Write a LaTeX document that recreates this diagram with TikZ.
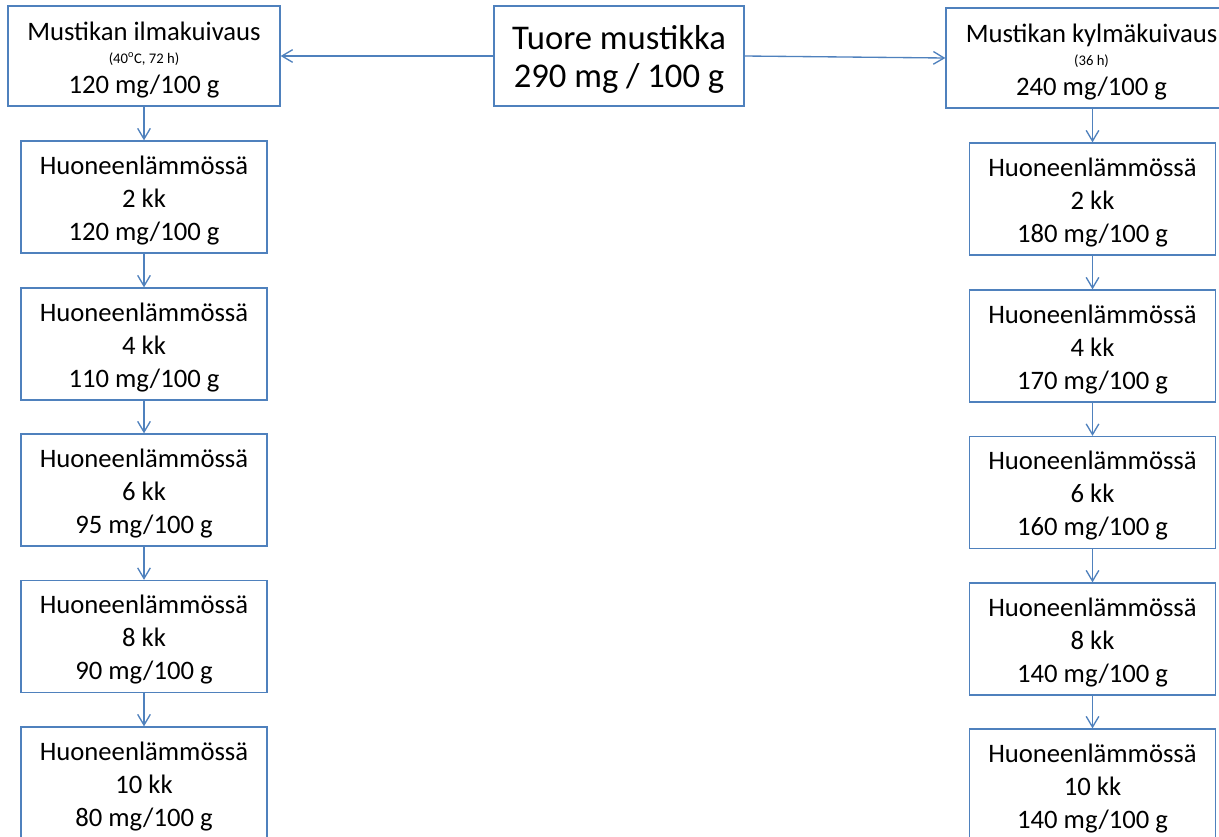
\documentclass[tikz,border=0pt]{standalone}
\usepackage{fontspec}
\setmainfont{Carlito}
\usetikzlibrary{arrows.meta}
\definecolor{boxblue}{HTML}{4F81BD}
\tikzset{
  box/.style={draw=boxblue, line width=1pt, fill=white, inner sep=0pt, align=center,
    font=\fontsize{20}{24.75}\selectfont},
  colbox/.style={box, minimum width=184.5pt, minimum height=84pt},
  arr/.style={draw=boxblue, line width=1pt, -{Straight Barb[length=8pt,width=9.5pt,line width=1pt]}}
}
\newcommand{\smalltxt}[1]{{\fontsize{11}{12}\selectfont #1}}
\newcommand{\topstrut}[1]{\rule{0pt}{#1}}
\begin{document}
\begin{tikzpicture}[x=0.75pt,y=-0.75pt]
\useasboundingbox (0,0) rectangle (1219,836);
\fill[white] (0,0) rectangle (1219,836);
\clip (0,0) rectangle (1219,836);

\node[box, minimum width=187.5pt, minimum height=75pt, font=\fontsize{26}{29}\selectfont] (C) at (619,56)
  {\topstrut{23pt}Tuore mustikka\\290 mg / 100 g};
\node[box, minimum width=204pt, minimum height=75pt] (L0) at (144,56)
  {\topstrut{19.5pt}Mustikan ilmakuivaus\\[-7.5pt]\smalltxt{(40\textsuperscript{o}C, 72 h)}\\[-2pt]120 mg/100 g};
\node[box, minimum width=218.25pt, minimum height=75pt] (R0) at (1091.5,58)
  {\topstrut{19.5pt}Mustikan kylmäkuivaus\\[-7.5pt]\smalltxt{(36 h)}\\[-2pt]240 mg/100 g};

\node[colbox] (L1) at (144,197) {\topstrut{18.5pt}Huoneenlämmössä\\2 kk\\120 mg/100 g};
\node[colbox] (L2) at (144,344) {\topstrut{18.5pt}Huoneenlämmössä\\4 kk\\110 mg/100 g};
\node[colbox] (L3) at (144,490) {\topstrut{18.5pt}Huoneenlämmössä\\6 kk\\95 mg/100 g};
\node[colbox] (L4) at (144,636.5) {\topstrut{18.5pt}Huoneenlämmössä\\8 kk\\90 mg/100 g};
\node[colbox] (L5) at (144,783) {\topstrut{18.5pt}Huoneenlämmössä\\10 kk\\80 mg/100 g};

\node[colbox] (R1) at (1092.5,199) {\topstrut{18.5pt}Huoneenlämmössä\\2 kk\\180 mg/100 g};
\node[colbox] (R2) at (1092.5,346) {\topstrut{18.5pt}Huoneenlämmössä\\4 kk\\170 mg/100 g};
\node[colbox] (R3) at (1092.5,492.5) {\topstrut{18.5pt}Huoneenlämmössä\\6 kk\\160 mg/100 g};
\node[colbox] (R4) at (1092.5,639) {\topstrut{18.5pt}Huoneenlämmössä\\8 kk\\140 mg/100 g};
\node[colbox] (R5) at (1092.5,785) {\topstrut{18.5pt}Huoneenlämmössä\\10 kk\\140 mg/100 g};

\draw[arr] (C.west) -- (L0.east);
\draw[arr] (C.east) -- (R0.west);
\draw[arr] (L0.south) -- (L1.north);
\draw[arr] (L1.south) -- (L2.north);
\draw[arr] (L2.south) -- (L3.north);
\draw[arr] (L3.south) -- (L4.north);
\draw[arr] (L4.south) -- (L5.north);
\draw[arr] (R0.south -| R1.north) -- (R1.north);
\draw[arr] (R1.south) -- (R2.north);
\draw[arr] (R2.south) -- (R3.north);
\draw[arr] (R3.south) -- (R4.north);
\draw[arr] (R4.south) -- (R5.north);
\end{tikzpicture}
\end{document}
